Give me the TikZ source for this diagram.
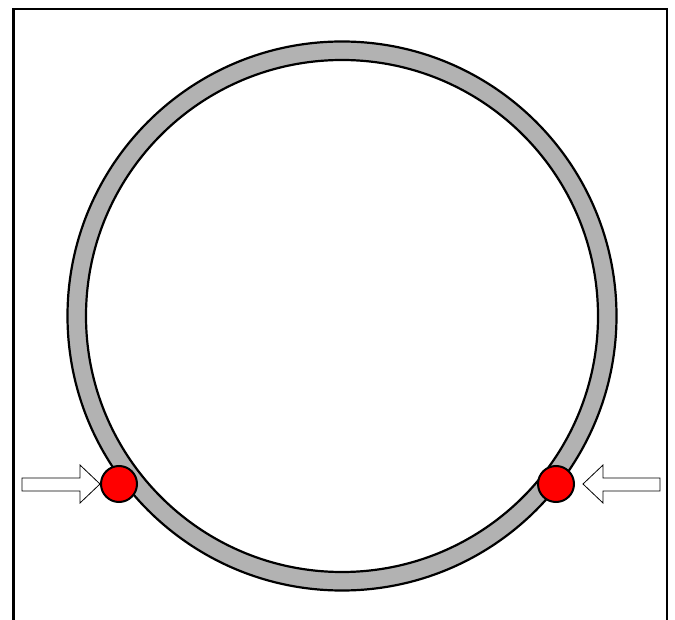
\documentclass[tikz,border=0pt]{standalone}
\usetikzlibrary{calc}

\tikzset{
  ring line/.style={draw=black,line width=2.2pt},
  sensor/.style={circle,draw=black,line width=2pt,fill=red,minimum size=36pt,inner sep=0pt},
  inarrow/.style={draw=black,line width=0.8pt,fill=white,line join=miter}
}

\begin{document}
\begin{tikzpicture}[x=1pt,y=-1pt]
  \useasboundingbox (0,0) rectangle (675,620);
  \clip (0,0) rectangle (675,620);
  % frame, open at the bottom
  \draw[line width=2.2pt] (13.5,640) -- (13.5,8.7) -- (667,8.7) -- (667,640);
  % ring
  \coordinate (c) at (342,316);
  \fill[gray!60!white,even odd rule] (c) circle[radius=274.5] (c) circle[radius=256];
  \draw[ring line] (c) circle[radius=274.5];
  \draw[ring line] (c) circle[radius=256];
  % sensors
  \node[sensor] (left) at (119,484) {};
  \node[sensor] (right) at (556,484) {};
  % arrows pointing at the sensors
  \draw[inarrow] (22,478) -- (80,478) -- (80,465) -- (100,484) -- (80,503)
    -- (80,491) -- (22,491) -- cycle;
  \draw[inarrow] (660,478) -- (603,478) -- (603,465) -- (583,484) -- (603,503)
    -- (603,491) -- (660,491) -- cycle;
\end{tikzpicture}
\end{document}
